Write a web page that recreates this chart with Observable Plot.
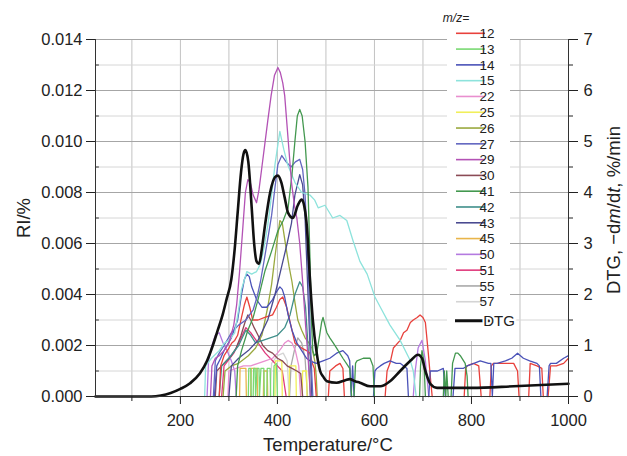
<!DOCTYPE html>
<html><head><meta charset="utf-8">
<script src="https://cdn.jsdelivr.net/npm/d3@7"></script>
<script src="https://cdn.jsdelivr.net/npm/@observablehq/plot@0.6"></script>
<style>body{margin:0;background:#fff}#chart{width:627px;height:456px}</style>
</head><body><div id="chart"></div>
<script>
// Temperature (°C), RI (%) pairs; [null] marks a gap in the trace
const mz12 = [[280,0],[283,0.0012],[290,0.0016],[300,0.0019],[306,0.0021],[312,0.0022],[318,0.0024],[326,0.0031],[332,0.0036],[337,0.0039],[343,0.0035],[349,0.0030],[360,0.0030],[374,0.0031],[390,0.0032],[398,0.0035],[405,0.0038],[411,0.0039],[419,0.0035],[430,0.0026],[436,0.0021],[450,0.0019],[460,0.0018],[467,0.0017],[472,0.0013],[476,0.0011],[480,0],[null],[505,0],[508,0.0010],[520,0.0012],[529,0.0013],[535,0.0011],[538,0],[null],[622,0],[626,0.0010],[632,0.0013],[639,0.0019],[653,0.0022],[660,0.0025],[667,0.0026],[674,0.0029],[680,0.0030],[688,0.0031],[694,0.0032],[700,0.0031],[705,0.0029],[711,0.0017],[716,0.0006],[719,0],[null],[785,0],[788,0.0011],[791,0.0012],[804,0.0013],[815,0.0012],[820,0],[null],[838,0],[841,0.0012],[845,0.0013],[866,0.0013],[887,0.0013],[895,0.0010],[898,0],[null],[918,0],[921,0.0013],[935,0.0012],[945,0.0011],[948,0],[null],[958,0],[963,0.0012],[975,0.0012],[990,0.0013],[1000,0.0015]];
const mz13 = [[340,0],[341,0.0011],[345,0.0011],[346,0],[null],[350,0],[351,0.0011],[354,0.0011],[355,0],[358,0.0011],[362,0.0011],[363,0],[366,0.0011],[372,0.0011],[373,0],[null],[378,0],[379,0.0011],[385,0.0011],[386,0],[null],[392,0],[393,0.0012],[398,0.0013],[400,0]];
const mz14 = [[270,0],[275,0.0012],[283,0.0015],[290,0.0018],[305,0.0023],[318,0.0030],[326,0.0040],[332,0.0046],[337,0.0048],[342,0.0047],[347,0.0043],[357,0.0038],[368,0.0035],[378,0.0035],[390,0.0038],[398,0.0041],[405,0.0043],[410,0.0042],[415,0.0039],[422,0.0032],[430,0.0026],[440,0.0021],[450,0.0018],[460,0.0015],[467,0.0014],[480,0.0013],[494,0.0014],[508,0.0015],[515,0.0016],[522,0.0017],[535,0.0018],[545,0.0016],[549,0.0014],[552,0],[555,0.0012],[558,0],[null],[598,0],[601,0.0010],[605,0.0011],[612,0.0012],[620,0.0013],[632,0.0014],[645,0.0013],[653,0.0013],[667,0.0011],[670,0],[null],[712,0],[715,0.0010],[730,0.0010],[742,0.0011],[746,0],[null],[762,0],[766,0.0011],[783,0.0011],[791,0.0012],[805,0.0013],[818,0.0014],[835,0.0013],[840,0.0013],[843,0],[846,0.0013],[853,0.0013],[870,0.0014],[883,0.0015],[895,0.0017],[907,0.0015],[920,0.0014],[935,0.0013],[940,0.0012],[943,0],[null],[956,0],[960,0.0012],[963,0.0013],[975,0.0013],[990,0.0015],[1000,0.0016]];
const mz15 = [[250,0],[252,0.0012],[264,0.0015],[280,0.0018],[291,0.0021],[300,0.0022],[312,0.0025],[320,0.0034],[326,0.0042],[337,0.0049],[347,0.0048],[357,0.0049],[365,0.0052],[372,0.0058],[380,0.0067],[388,0.0079],[395,0.0091],[405,0.0104],[413,0.0097],[421,0.0091],[436,0.0084],[450,0.0080],[467,0.0079],[477,0.0077],[484,0.0074],[498,0.0075],[514,0.0070],[529,0.0071],[543,0.0069],[556,0.0061],[570,0.0053],[585,0.0048],[601,0.0039],[615,0.0034],[632,0.0028],[653,0.0022],[674,0.0014],[680,0.0010],[686,0]];
const mz22 = [[298,0],[300,0.0010],[315,0.0011],[330,0.0012],[345,0.0012],[360,0.0013],[375,0.0014],[390,0.0015],[400,0.0017],[408,0.0019],[415,0.0021],[422,0.0022],[430,0.0021],[437,0.0018],[444,0.0012],[448,0]];
const mz25 = [[395,0],[396,0.0014],[409,0.0014],[410,0],[null],[424,0],[425,0.0012],[438,0.0012],[439,0],[null],[451,0],[452,0.0010],[460,0.0010],[461,0]];
const mz26 = [[288,0],[292,0.0010],[305,0.0012],[320,0.0013],[340,0.0016],[355,0.0019],[368,0.0024],[380,0.0035],[388,0.0044],[395,0.0055],[400,0.0062],[405,0.0069],[410,0.0068],[418,0.0058],[424,0.0051],[430,0.0045],[436,0.0037],[442,0.0030],[450,0.0026],[457,0.0023],[465,0.0021],[471,0.0019],[477,0.0014],[480,0.0008],[482,0]];
const mz27 = [[268,0],[272,0.0014],[280,0.0017],[290,0.0020],[305,0.0025],[320,0.0028],[335,0.0030],[350,0.0034],[358,0.0039],[365,0.0045],[375,0.0056],[382,0.0064],[388,0.0071],[395,0.0082],[401,0.0091],[409,0.00945],[418,0.0092],[428,0.0090],[437,0.0092],[446,0.0093],[452,0.0089],[457,0.0079],[461,0.0062],[465,0.0042],[468,0.0022],[471,0.0008],[473,0]];
const mz29 = [[262,0],[265,0.0012],[272,0.0015],[280,0.0016],[290,0.0018],[300,0.0021],[310,0.0028],[316,0.0036],[322,0.0049],[329,0.0067],[334,0.0080],[339,0.0085],[344,0.0084],[350,0.0079],[357,0.0076],[362,0.0081],[368,0.0090],[374,0.0099],[380,0.0108],[387,0.0118],[394,0.0126],[401,0.0129],[406,0.0127],[411,0.0123],[415,0.0118],[422,0.0101],[429,0.0084],[435,0.0075],[440,0.0070],[446,0.0060],[452,0.0045],[458,0.0028],[464,0.0013],[468,0]];
const mz30 = [[272,0],[275,0.0010],[285,0.0012],[295,0.0014],[305,0.0016],[315,0.0019],[325,0.0024],[333,0.0029],[339,0.0032],[345,0.0030],[352,0.0027],[360,0.0024],[370,0.0020],[380,0.0018],[390,0.0017],[400,0.0015],[410,0.0014],[420,0.0012],[430,0.0011],[440,0.0010],[448,0.0009],[452,0]];
const mz41 = [[315,0],[318,0.0012],[326,0.0018],[339,0.0026],[350,0.0031],[360,0.0038],[374,0.0049],[388,0.0057],[401,0.0065],[412,0.0069],[422,0.0074],[430,0.0087],[436,0.0100],[441,0.0110],[446,0.01126],[451,0.0110],[457,0.0100],[463,0.0082],[467,0.0055],[470,0.0030],[473,0.0018],[476,0.0016],[481,0.0017],[487,0.0024],[491,0.0029],[494,0.0031],[498,0.0028],[502,0.0025],[508,0.0023],[515,0.0021],[522,0.0019],[535,0.0015],[549,0.0011],[553,0],[null],[558,0],[561,0.0013],[564,0.0014],[577,0.0015],[591,0.0015],[597,0.0012],[600,0],[null],[693,0],[695,0.0012],[698,0.0018],[702,0.0014],[705,0],[null],[742,0],[744,0.0010],[747,0],[749,0.0010],[752,0],[null],[758,0],[761,0.0013],[767,0.0017],[772,0.0017],[777,0.0016],[787,0.0013],[791,0.0008],[793,0]];
const mz42 = [[280,0],[285,0.0012],[300,0.0015],[320,0.0020],[335,0.0026],[345,0.0024],[355,0.0021],[370,0.0022],[385,0.0023],[400,0.0024],[415,0.0027],[426,0.0032],[436,0.0040],[446,0.0045],[452,0.0043],[458,0.0035],[463,0.0020],[468,0]];
const mz43 = [[300,0],[305,0.0012],[320,0.0015],[340,0.0018],[360,0.0022],[380,0.0030],[395,0.0040],[410,0.0052],[420,0.0060],[429,0.0068],[436,0.0079],[446,0.0087],[452,0.0083],[457,0.0070],[463,0.0040],[468,0.0015],[471,0]];
const mz45 = [[322,0],[323,0.0011],[335,0.0011],[336,0],[null],[345,0],[346,0.0011],[358,0.0011],[359,0],[null],[371,0],[372,0.0010],[379,0.0010],[380,0]];
const mz50 = [[255,0],[258,0.0014],[265,0.0020],[272,0.0024],[280,0.0025],[288,0.0021],[296,0.0018],[305,0.0014],[312,0.0010],[315,0],[null],[680,0],[684,0.0010],[690,0.0019],[698,0.0022],[705,0.0014],[709,0.0006],[712,0]];
const mz51 = [[285,0],[290,0.0012],[310,0.0017],[325,0.0023],[335,0.0027],[345,0.0025],[360,0.0021],[375,0.0017],[390,0.0014],[400,0.0012],[410,0.0010],[418,0]];
const mz55 = [[425,0],[428,0.0012],[436,0.0019],[442,0.0023],[450,0.0021],[457,0.0015],[462,0]];
const mz57 = [[385,0],[388,0.0013],[400,0.0016],[412,0.0017],[420,0.0014],[424,0]];
// DTG, -dm/dt (%/min)
const dtg = [[25,0],[140,0],[160,0.02],[180,0.07],[200,0.15],[220,0.26],[240,0.45],[255,0.7],[265,0.95],[277,1.3],[287,1.6],[295,1.9],[305,2.3],[312,2.9],[318,3.6],[325,4.4],[330,4.75],[334,4.83],[340,4.6],[347,3.7],[352,3.0],[357,2.65],[362,2.6],[368,2.9],[375,3.4],[385,4.0],[395,4.3],[401,4.33],[408,4.2],[415,3.9],[422,3.6],[432,3.5],[442,3.75],[450,3.86],[456,3.7],[461,3.3],[467,2.3],[473,1.5],[481,0.85],[488,0.5],[495,0.38],[502,0.3],[522,0.27],[540,0.32],[549,0.34],[560,0.3],[570,0.27],[591,0.2],[612,0.2],[632,0.3],[653,0.5],[674,0.7],[690,0.82],[698,0.75],[705,0.5],[715,0.25],[729,0.17],[800,0.17],[887,0.2],[1000,0.25]];

const legendNames = ["12","13","14","15","22","25","26","27","29","30","41","42","43","45","50","51","55","57"];
const legendColors = ["#e8413c","#79d972","#4a52b8","#8de3dc","#e98fcf","#f1ef5a","#9aa93e","#6266c0","#b352b5","#8b4b55","#43984f","#3f8f8a","#4a4a90","#e9b54a","#b47ae0","#e03a7c","#a9a9a9","#d4d4d4"];
const seriesData = [mz12,mz13,mz14,mz15,mz22,mz25,mz26,mz27,mz29,mz30,mz41,mz42,mz43,mz45,mz50,mz51,mz55,mz57];
const drawOrder = ["57","55","51","50","45","25","13","22","30","26","42","12","14","43","27","15","41","29"];

const xTicks = [200,400,600,800,1000];
const xMinor = [100,300,500,700,900];
const yMajor = [0,0.002,0.004,0.006,0.008,0.010,0.012,0.014];
const yMinor = [0.001,0.003,0.005,0.007,0.009,0.011,0.013];
const dtgScale = 500;

const lineMarks = drawOrder.map(n => {
  const i = legendNames.indexOf(n);
  return Plot.line(seriesData[i], {x: d => d[0], y: d => d[1], stroke: legendColors[i], strokeWidth: 1.3});
});

const chart = Plot.plot({
  width: 627, height: 456,
  marginLeft: 95, marginRight: 59, marginTop: 39, marginBottom: 60,
  style: {fontFamily: "'Liberation Sans', Arial, sans-serif", fontSize: "16.5px", color: "#222", background: "white", overflow: "visible"},
  x: {domain: [25, 1000]},
  y: {domain: [0, 0.014]},
  marks: [
    Plot.ruleX(d3.range(100, 1000, 100), {stroke: "#c2c2c2"}),
    Plot.ruleY(yMinor, {stroke: "#d6d6d6"}),
    Plot.ruleY(yMajor, {stroke: "#a6a6a6"}),
    ...lineMarks,
    Plot.line(dtg, {x: d => d[0], y: d => d[1] / dtgScale, stroke: "#111", strokeWidth: 2.6, curve: "monotone-x"}),
    Plot.ruleX([25], {stroke: "#333"}),
    Plot.ruleX([1000], {stroke: "#333"}),
    Plot.ruleY([0], {stroke: "#333"}),
    Plot.ruleY(yMinor, {x1: 25, x2: 33, stroke: "#333"}),
    Plot.axisX(xTicks, {tickSize: 8, tickPadding: 10, tickFormat: d => String(d), label: null}),
    Plot.axisX(xMinor, {tickSize: 5, tickFormat: () => "", label: null}),
    Plot.axisY(yMajor, {anchor: "left", tickSize: 9, tickPadding: 4, tickFormat: d3.format(".3f"), label: null}),
    Plot.axisY(yMajor, {anchor: "right", tickSize: 9, tickPadding: 6, tickFormat: d => String(Math.round(d * dtgScale)), label: null}),
    Plot.axisY(yMinor, {anchor: "right", tickSize: 4, tickFormat: () => "", label: null})
  ]
});
document.getElementById("chart").appendChild(chart);

const svg = d3.select(chart);
const ff = "'Liberation Sans', Arial, sans-serif";
// axis titles
svg.append("text").attr("x", 328).attr("y", 451).attr("text-anchor", "middle")
  .attr("font-family", ff).attr("font-size", 18.5).attr("fill", "#222").text("Temperature/°C");
svg.append("text").attr("transform", "translate(30,218) rotate(-90)").attr("text-anchor", "middle")
  .attr("font-family", ff).attr("font-size", 18.5).attr("fill", "#222").text("RI/%");
const rt = svg.append("text").attr("transform", "translate(620,210) rotate(-90)").attr("text-anchor", "middle")
  .attr("font-family", ff).attr("font-size", 18.5).attr("fill", "#222");
rt.append("tspan").text("DTG, \u2212d");
rt.append("tspan").attr("font-style", "italic").text("m");
rt.append("tspan").text("/d");
rt.append("tspan").attr("font-style", "italic").text("t");
rt.append("tspan").text(", %/min");

// legend
const lg = svg.append("g").attr("font-family", ff);
lg.append("rect").attr("x", 447).attr("y", 28).attr("width", 63).attr("height", 313).attr("fill", "white");
lg.append("text").attr("x", 456).attr("y", 22).attr("font-size", 12).attr("font-style", "italic").attr("fill", "#222").text("m/z=");
legendNames.forEach((n, i) => {
  const y = 33.3 + i * 15.79;
  lg.append("line").attr("x1", 456).attr("x2", 485).attr("y1", y).attr("y2", y)
    .attr("stroke", legendColors[i]).attr("stroke-width", 1.6);
  lg.append("text").attr("x", 487).attr("y", y).attr("dy", "0.35em").attr("font-size", 13.5).attr("fill", "#222").text(n);
});
lg.append("line").attr("x1", 455).attr("x2", 493).attr("y1", 320.7).attr("y2", 320.7).attr("stroke", "#111").attr("stroke-width", 3);
lg.append("text").attr("x", 499).attr("y", 320.7).attr("dy", "0.35em").attr("font-size", 15).attr("fill", "#222")
  .attr("stroke", "white").attr("stroke-width", 4).attr("paint-order", "stroke").text("DTG");
</script></body></html>
